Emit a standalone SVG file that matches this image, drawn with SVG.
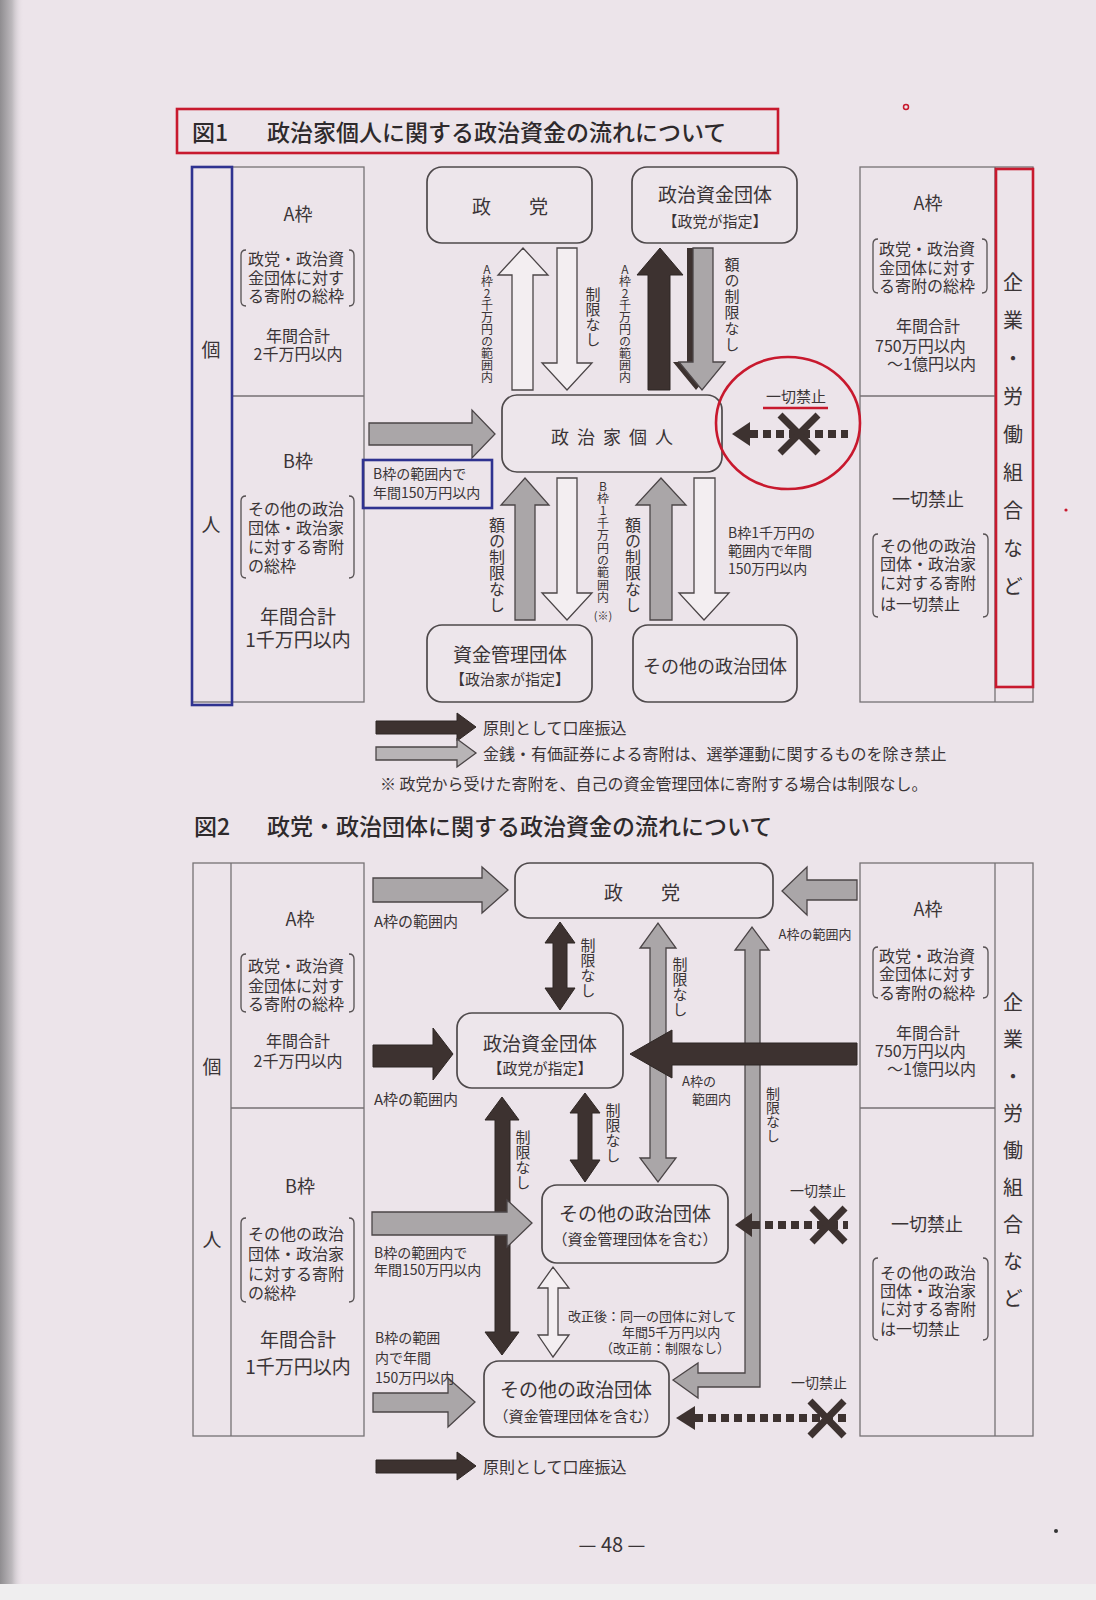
<svg xmlns="http://www.w3.org/2000/svg" width="1096" height="1600" viewBox="0 0 1096 1600">
<defs>
<linearGradient id="edge" x1="0" y1="0" x2="1" y2="0">
<stop offset="0" stop-color="#8f8d90"/>
<stop offset="0.5" stop-color="#bdb9bd"/>
<stop offset="1" stop-color="#ece4ea" stop-opacity="0"/>
</linearGradient>
<style>
.t{font-family:"Noto Sans CJK JP","Noto Sans",sans-serif;fill:#3a3436;dominant-baseline:central}
.c{text-anchor:middle}
.v{writing-mode:vertical-rl;text-orientation:upright;dominant-baseline:auto}
.ttl{font-size:23px;fill:#2e2a2c;font-weight:500}
.f16{font-size:16px}
.f19{font-size:19px}
.f18{font-size:18px}
.f15{font-size:15px}
.f14{font-size:14px}
.f13{font-size:13px}
.f12{font-size:12px}
.tbl{fill:none;stroke:#767173;stroke-width:1.3}
.br{fill:none;stroke:#555052;stroke-width:1.3}
.node{fill:#ede6eb;stroke:#4e494b;stroke-width:1.7}
.dark{fill:#3d3230;stroke:#2e2624;stroke-width:1}
.gray{fill:#aaa6a8;stroke:#4b4547;stroke-width:1.3}
.hol{fill:#f3eef1;stroke:#4b4547;stroke-width:1.3}
.dots{stroke:#3d3230;stroke-width:8;stroke-dasharray:8 5;fill:none}
.xx{stroke:#3d3230;stroke-width:7;stroke-linecap:butt;fill:none}
.red{fill:none;stroke:#c8192e;stroke-width:2.6}
.blue{fill:none;stroke:#2f3290;stroke-width:2.6}
</style>
</defs>
<rect x="0" y="0" width="1096" height="1600" fill="#ece4ea"/>
<rect x="0" y="0" width="24" height="1584" fill="url(#edge)"/>
<rect x="0" y="1584" width="1096" height="16" fill="#efeeef"/>

<!-- ===== Figure 1 ===== -->
<g id="fig1-title">
<rect class="red" x="177" y="109" width="601" height="44"/>
<text class="t ttl" y="131"><tspan x="192">図1</tspan><tspan x="267">政治家個人に関する政治資金の流れについて</tspan></text>
</g>

<g id="fig1-left-table">
<rect class="tbl" x="192" y="167" width="172" height="535"/>
<line class="tbl" x1="232" y1="167" x2="232" y2="702"/>
<line class="tbl" x1="232" y1="396" x2="364" y2="396"/>
<rect class="blue" x="192" y="167" width="40" height="538"/>
<text class="t f19 c" x="211" y="348">個</text>
<text class="t f19 c" x="211" y="523">人</text>
<text class="t f18 c" x="298" y="213">A枠</text>
<path class="br" d="M246 250 Q241 250 241 255 V301 Q241 306 246 306"/>
<path class="br" d="M349 250 Q354 250 354 255 V301 Q354 306 349 306"/>
<text class="t f16" y="258"><tspan x="248">政党・政治資</tspan><tspan x="248" dy="19">金団体に対す</tspan><tspan x="248" dy="18">る寄附の総枠</tspan></text>
<text class="t f16 c" y="335"><tspan x="298">年間合計</tspan><tspan x="298" dy="18">2千万円以内</tspan></text>
<text class="t f18 c" x="298" y="460">B枠</text>
<path class="br" d="M246 496 Q241 496 241 501 V573 Q241 578 246 578"/>
<path class="br" d="M349 496 Q354 496 354 501 V573 Q354 578 349 578"/>
<text class="t f16" y="508"><tspan x="248">その他の政治</tspan><tspan x="248" dy="19">団体・政治家</tspan><tspan x="248" dy="18.5">に対する寄附</tspan><tspan x="248" dy="19.5">の総枠</tspan></text>
<text class="t f19 c" y="615"><tspan x="298">年間合計</tspan><tspan x="298" dy="23">1千万円以内</tspan></text>
</g>

<g id="fig1-right-table">
<rect class="tbl" x="860" y="167" width="173" height="535"/>
<line class="tbl" x1="995" y1="167" x2="995" y2="702"/>
<line class="tbl" x1="860" y1="396" x2="995" y2="396"/>
<rect class="red" x="996" y="169" width="37" height="518"/>
<text class="t v" style="font-size:20px;letter-spacing:18px" x="1013" y="272">企業・労働組合など</text>
<text class="t f18 c" x="928" y="202">A枠</text>
<path class="br" d="M878 239 Q873 239 873 244 V288 Q873 293 878 293"/>
<path class="br" d="M982 239 Q987 239 987 244 V288 Q987 293 982 293"/>
<text class="t f16" y="248"><tspan x="879">政党・政治資</tspan><tspan x="879" dy="19">金団体に対す</tspan><tspan x="879" dy="18">る寄附の総枠</tspan></text>
<text class="t f16" y="325"><tspan x="896">年間合計</tspan><tspan x="875" dy="20">750万円以内</tspan><tspan x="887" dy="18">～1億円以内</tspan></text>
<text class="t f18 c" x="928" y="498">一切禁止</text>
<path class="br" d="M878 534 Q873 534 873 539 V612 Q873 617 878 617"/>
<path class="br" d="M983 534 Q988 534 988 539 V612 Q988 617 983 617"/>
<text class="t f16" y="545"><tspan x="880">その他の政治</tspan><tspan x="880" dy="18">団体・政治家</tspan><tspan x="880" dy="19">に対する寄附</tspan><tspan x="880" dy="21">は一切禁止</tspan></text>
</g>

<g id="n1-seito">
<rect class="node" x="427" y="167" width="165" height="76" rx="15"/>
<text class="t f19 c" x="510" y="205">政　　党</text>
</g>
<g id="n1-shikin">
<rect class="node" x="632" y="167" width="165" height="76" rx="15"/>
<text class="t c" y="193"><tspan class="f19" x="715">政治資金団体</tspan><tspan class="f15" x="715" dy="27">【政党が指定】</tspan></text>
</g>
<g id="n1-kojin">
<rect class="node" x="502" y="395" width="220" height="77" rx="15"/>
<text class="t f18 c" style="letter-spacing:8px" x="616" y="436">政治家個人</text>
</g>
<g id="n1-kanri">
<rect class="node" x="427" y="625" width="165" height="77" rx="15"/>
<text class="t c" y="653"><tspan class="f19" x="510">資金管理団体</tspan><tspan class="f15" x="510" dy="25">【政治家が指定】</tspan></text>
</g>
<g id="n1-sonota">
<rect class="node" x="633" y="625" width="164" height="77" rx="15"/>
<text class="t f18 c" x="715" y="665">その他の政治団体</text>
</g>

<g id="fig1-connectors">
<polygon class="hol" points="512,390 512,275 498,275 523,248 548,275 533,275 533,390"/>
<polygon class="hol" points="557,248 577,248 577,363 592,363 567,390 542,363 557,363"/>
<polygon class="dark" points="648,390 648,275 637,275 660,248 683,275 670,275 670,390"/>
<polygon fill="#3d3230" points="687,248 707,248 707,362 719,362 696,390 673,362 687,362"/>
<polygon class="gray" points="693,248 713,248 713,362 725,362 702,390 679,362 693,362"/>
<polygon class="gray" points="369,423 472,423 472,410 495,434 472,458 472,445 369,445"/>
<polygon class="gray" points="515,620 515,505 501,505 525,478 549,505 535,505 535,620"/>
<polygon class="hol" points="557,478 577,478 577,593 592,593 567,620 542,593 557,593"/>
<polygon class="gray" points="650,620 650,505 636,505 661,478 686,505 672,505 672,620"/>
<polygon class="hol" points="694,478 715,478 715,593 729,593 704,620 679,593 694,593"/>
<line class="dots" x1="750" y1="434" x2="848" y2="434"/>
<polygon fill="#3d3230" points="732,434 750,422 750,446"/>
<path class="xx" d="M780 415 L818 453 M818 415 L780 453"/>
<ellipse class="red" cx="788" cy="423" rx="72" ry="66"/>
<line x1="763" y1="408" x2="828" y2="408" stroke="#c8192e" stroke-width="2.4"/>
<text class="t f15 c" x="796" y="395">一切禁止</text>
<text class="t v f12" x="487" y="263">A枠2千万円の範囲内</text>
<text class="t v f15" x="593" y="287">制限なし</text>
<text class="t v f12" x="625" y="263">A枠2千万円の範囲内</text>
<text class="t v f15" style="letter-spacing:1px" x="732" y="257">額の制限なし</text>
<rect class="blue" x="363" y="460" width="129" height="48"/>
<text class="t f14" y="473"><tspan x="373">B枠の範囲内で</tspan><tspan x="373" dy="19">年間150万円以内</tspan></text>
<text class="t v f16" x="497" y="517">額の制限なし</text>
<text class="t v f12" style="letter-spacing:0.4px" x="603" y="480">B枠1千万円の範囲内</text>
<text class="t f11 c" style="font-size:11px" x="603" y="615">(※)</text>
<text class="t v f16" x="633" y="517">額の制限なし</text>
<text class="t f14" y="532"><tspan x="728">B枠1千万円の</tspan><tspan x="728" dy="18">範囲内で年間</tspan><tspan x="728" dy="18">150万円以内</tspan></text>
</g>

<g id="fig1-legend">
<polygon class="dark" points="376,721 457,721 457,713 476,727 457,741 457,734 376,734"/>
<polygon fill="#b8b4b6" stroke="#4b4547" stroke-width="1.3" points="376,747 457,747 457,739 476,753 457,767 457,760 376,760"/>
<text class="t f16" x="483" y="727">原則として口座振込</text>
<text class="t f16" x="483" y="753">金銭・有価証券による寄附は、選挙運動に関するものを除き禁止</text>
<text class="t f16" x="380" y="783">※ 政党から受けた寄附を、自己の資金管理団体に寄附する場合は制限なし。</text>
</g>

<!-- ===== Figure 2 ===== -->
<g id="fig2-title">
<text class="t ttl" y="825"><tspan x="194">図2</tspan><tspan x="267">政党・政治団体に関する政治資金の流れについて</tspan></text>
</g>

<g id="fig2-left-table">
<rect class="tbl" x="193" y="863" width="171" height="573"/>
<line class="tbl" x1="231" y1="863" x2="231" y2="1436"/>
<line class="tbl" x1="231" y1="1108" x2="364" y2="1108"/>
<text class="t f19 c" x="212" y="1065">個</text>
<text class="t f19 c" x="212" y="1238">人</text>
<text class="t f18 c" x="300" y="918">A枠</text>
<path class="br" d="M246 954 Q241 954 241 959 V1007 Q241 1012 246 1012"/>
<path class="br" d="M349 954 Q354 954 354 959 V1007 Q354 1012 349 1012"/>
<text class="t f16" y="965"><tspan x="248">政党・政治資</tspan><tspan x="248" dy="20">金団体に対す</tspan><tspan x="248" dy="18">る寄附の総枠</tspan></text>
<text class="t f16 c" y="1040"><tspan x="298">年間合計</tspan><tspan x="298" dy="20">2千万円以内</tspan></text>
<text class="t f18 c" x="300" y="1185">B枠</text>
<path class="br" d="M246 1218 Q241 1218 241 1223 V1297 Q241 1302 246 1302"/>
<path class="br" d="M349 1218 Q354 1218 354 1223 V1297 Q354 1302 349 1302"/>
<text class="t f16" y="1233"><tspan x="248">その他の政治</tspan><tspan x="248" dy="20">団体・政治家</tspan><tspan x="248" dy="20">に対する寄附</tspan><tspan x="248" dy="19">の総枠</tspan></text>
<text class="t f19 c" y="1338"><tspan x="298">年間合計</tspan><tspan x="298" dy="27">1千万円以内</tspan></text>
</g>

<g id="fig2-right-table">
<rect class="tbl" x="860" y="863" width="173" height="573"/>
<line class="tbl" x1="995" y1="863" x2="995" y2="1436"/>
<line class="tbl" x1="860" y1="1108" x2="995" y2="1108"/>
<text class="t v" style="font-size:20px;letter-spacing:17px" x="1013" y="992">企業・労働組合など</text>
<text class="t f18 c" x="928" y="908">A枠</text>
<path class="br" d="M878 947 Q873 947 873 952 V993 Q873 998 878 998"/>
<path class="br" d="M983 947 Q988 947 988 952 V993 Q988 998 983 998"/>
<text class="t f16" y="955"><tspan x="879">政党・政治資</tspan><tspan x="879" dy="18">金団体に対す</tspan><tspan x="879" dy="19">る寄附の総枠</tspan></text>
<text class="t f16" y="1032"><tspan x="896">年間合計</tspan><tspan x="875" dy="18">750万円以内</tspan><tspan x="887" dy="18">～1億円以内</tspan></text>
<text class="t f18 c" x="927" y="1223">一切禁止</text>
<path class="br" d="M878 1258 Q873 1258 873 1263 V1335 Q873 1340 878 1340"/>
<path class="br" d="M983 1258 Q988 1258 988 1263 V1335 Q988 1340 983 1340"/>
<text class="t f16" y="1272"><tspan x="880">その他の政治</tspan><tspan x="880" dy="18">団体・政治家</tspan><tspan x="880" dy="18">に対する寄附</tspan><tspan x="880" dy="20">は一切禁止</tspan></text>
</g>

<g id="n2-seito">
<rect class="node" x="515" y="863" width="258" height="55" rx="15"/>
<text class="t f19 c" x="642" y="891">政　　党</text>
</g>
<g id="n2-shikin">
<rect class="node" x="457" y="1013" width="166" height="75" rx="15"/>
<text class="t c" y="1042"><tspan class="f19" x="540">政治資金団体</tspan><tspan class="f15" x="540" dy="25">【政党が指定】</tspan></text>
</g>
<g id="n2-sonota-upper">
<rect class="node" x="542" y="1185" width="186" height="78" rx="15"/>
<text class="t c" y="1212"><tspan class="f19" x="635">その他の政治団体</tspan><tspan class="f15" x="635" dy="26">（資金管理団体を含む）</tspan></text>
</g>
<g id="n2-sonota-lower">
<rect class="node" x="484" y="1361" width="185" height="76" rx="15"/>
<text class="t c" y="1388"><tspan class="f19" x="576">その他の政治団体</tspan><tspan class="f15" x="576" dy="27">（資金管理団体を含む）</tspan></text>
</g>

<g id="fig2-connectors">
<polygon class="gray" points="650,1158 650,948 640,948 658,923 676,948 666,948 666,1158 676,1158 658,1182 640,1158"/>
<polygon class="gray" points="673,1380 698,1363 698,1373 745,1373 745,950 735,950 752,927 769,950 760,950 760,1387 698,1387 698,1398"/>
<polygon class="gray" points="373,878 482,878 482,867 508,890 482,913 482,902 373,902"/>
<polygon class="dark" points="373,1045 433,1045 433,1028 453,1054 433,1080 433,1067 373,1067"/>
<polygon class="dark" points="553,943 545,943 560,922 575,943 567,943 567,988 575,988 560,1010 545,988 553,988"/>
<polygon class="gray" points="857,880 807,880 807,867 782,891 807,915 807,900 857,900"/>
<polygon class="dark" points="857,1043 672,1043 672,1030 630,1054 672,1078 672,1065 857,1065"/>
<polygon class="dark" points="578,1113 570,1113 585,1093 600,1113 592,1113 592,1160 600,1160 585,1182 570,1160 578,1160"/>
<polygon class="dark" points="495,1120 485,1120 502,1097 519,1120 510,1120 510,1332 519,1332 502,1355 485,1332 495,1332"/>
<polygon class="gray" points="372,1212 507,1212 507,1200 532,1223 507,1247 507,1235 372,1235"/>
<polygon class="hol" points="548,1288 538,1288 553,1267 569,1288 558,1288 558,1335 569,1335 553,1357 538,1335 548,1335"/>
<polygon class="gray" points="373,1393 448,1393 448,1378 475,1402 448,1427 448,1412 373,1412"/>
<line class="dots" x1="752" y1="1225" x2="848" y2="1225"/>
<polygon fill="#3d3230" points="735,1225 752,1213 752,1237"/>
<path class="xx" d="M812 1208 L845 1242 M845 1208 L812 1242"/>
<line class="dots" x1="695" y1="1418" x2="851" y2="1418"/>
<polygon fill="#3d3230" points="676,1418 695,1406 695,1430"/>
<path class="xx" d="M810 1401 L844 1436 M844 1401 L810 1436"/>
<text class="t f15" x="374" y="920">A枠の範囲内</text>
<text class="t f15" x="374" y="1098">A枠の範囲内</text>
<text class="t f13 c" x="815" y="933">A枠の範囲内</text>
<text class="t f13" y="1080"><tspan x="682">A枠の</tspan><tspan x="692" dy="18">範囲内</tspan></text>
<text class="t v f15" x="588" y="938">制限なし</text>
<text class="t v f15" x="680" y="957">制限なし</text>
<text class="t v f14" x="773" y="1087">制限なし</text>
<text class="t v f15" x="613" y="1103">制限なし</text>
<text class="t v f15" x="523" y="1130">制限なし</text>
<text class="t f14" y="1252"><tspan x="374">B枠の範囲内で</tspan><tspan x="374" dy="17">年間150万円以内</tspan></text>
<text class="t f13" y="1315"><tspan x="568">改正後：同一の団体に対して</tspan><tspan x="622" dy="16">年間5千万円以内</tspan><tspan x="600" dy="16">（改正前：制限なし）</tspan></text>
<text class="t f14" y="1337"><tspan x="375">B枠の範囲</tspan><tspan x="375" dy="20">内で年間</tspan><tspan x="375" dy="20">150万円以内</tspan></text>
<text class="t f14 c" x="818" y="1190">一切禁止</text>
<text class="t f14 c" x="819" y="1382">一切禁止</text>
</g>

<g id="fig2-legend">
<polygon class="dark" points="376,1460 457,1460 457,1452 476,1466 457,1480 457,1473 376,1473"/>
<text class="t f16" x="483" y="1466">原則として口座振込</text>
</g>

<g id="page">
<text class="t c" style="font-size:20px" x="612" y="1543">— 48 —</text>
<circle cx="906" cy="107" r="2.5" fill="none" stroke="#c8192e" stroke-width="1.5"/>
<circle cx="1066" cy="510" r="1.6" fill="#c8192e"/>
<circle cx="1056" cy="1531" r="2" fill="#333"/>
</g>
</svg>
